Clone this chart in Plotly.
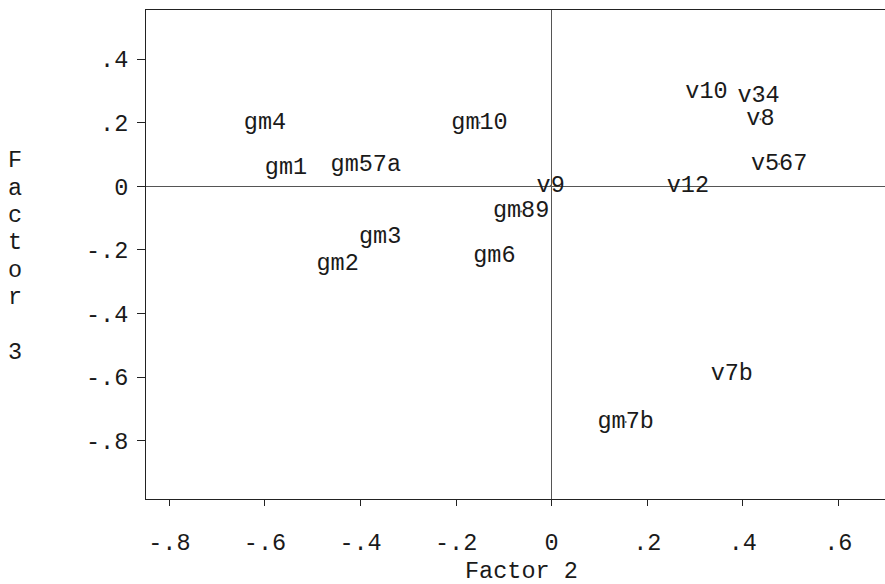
import plotly.graph_objects as go

# Factor loadings: Factor 2 (x) vs Factor 3 (y)
labels = ["gm4", "gm10", "gm1", "gm57a", "v9", "gm89", "gm3", "gm2", "gm6",
          "v10", "v34", "v8", "v567", "v12", "v7b", "gm7b"]
factor2 = [-0.600, -0.151, -0.556, -0.389, -0.002, -0.064, -0.359, -0.448, -0.120,
           0.324, 0.433, 0.437, 0.476, 0.285, 0.377, 0.155]
factor3 = [0.199, 0.200, 0.057, 0.066, 0.002, -0.079, -0.161, -0.246, -0.218,
           0.297, 0.284, 0.211, 0.070, 0.002, -0.590, -0.741]

xticks = [-0.8, -0.6, -0.4, -0.2, 0, 0.2, 0.4, 0.6]
xticktext = ["-.8", "-.6", "-.4", "-.2", "0", ".2", ".4", ".6"]
yticks = [0.4, 0.2, 0, -0.2, -0.4, -0.6, -0.8]
yticktext = [".4", ".2", "0", "-.2", "-.4", "-.6", "-.8"]

FONT = "Liberation Mono, Courier New, monospace"
FS = 23.5
INK = "#1a1a1a"

fig = go.Figure()
fig.add_trace(go.Scatter(
    x=factor2, y=factor3, text=labels,
    mode="markers+text", textposition="middle center",
    marker=dict(size=2, color="#666666"),
    textfont=dict(family=FONT, size=FS, color=INK),
    hoverinfo="skip", showlegend=False,
))

axis_common = dict(
    showgrid=False, zeroline=True, zerolinecolor="#555555", zerolinewidth=1,
    showline=True, linecolor="#222222", linewidth=1, mirror=True,
    ticks="outside", tickcolor="#222222", tickwidth=1,
    tickfont=dict(family=FONT, size=FS, color=INK),
)

fig.update_layout(
    width=885, height=584,
    margin=dict(l=146, r=0, t=10, b=85),
    paper_bgcolor="white", plot_bgcolor="white",
    xaxis=dict(range=[-0.849, 0.6976], tickvals=xticks, ticktext=xticktext,
               ticklen=6, ticklabelstandoff=16, **axis_common),
    yaxis=dict(range=[-0.9834, 0.5548], tickvals=yticks, ticktext=yticktext,
               ticklen=8, ticklabelstandoff=4, **axis_common),
)

# x-axis title
fig.add_annotation(text="Factor 2", xref="paper", yref="paper",
                   x=(521.7 - 146) / 739, y=(499 - 571) / 489,
                   xanchor="center", yanchor="middle", showarrow=False,
                   font=dict(family=FONT, size=FS, color=INK))

# y-axis title, one character per line
title3 = "Factor 3"
spacing = 27.3
center = 256.5
n = len(title3)
for i, ch in enumerate(title3):
    if ch == " ":
        continue
    py = center + (i - (n - 1) / 2) * spacing
    fig.add_annotation(text=ch, xref="paper", yref="paper",
                       x=(15 - 146) / 739, y=(499 - py) / 489,
                       xanchor="center", yanchor="middle", showarrow=False,
                       font=dict(family=FONT, size=FS, color=INK))

fig.write_html("out.html")
